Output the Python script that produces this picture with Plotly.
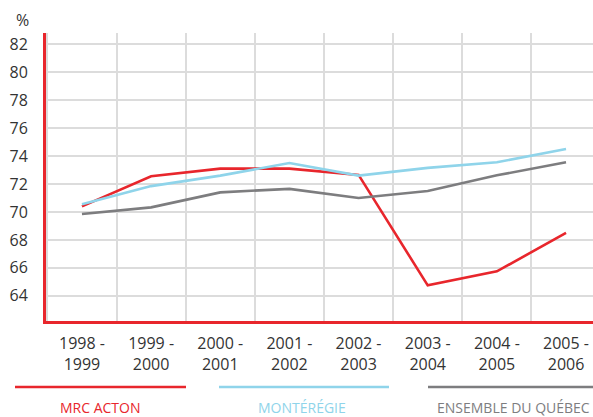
import plotly.graph_objects as go

categories = ["1998 -<br>1999", "1999 -<br>2000", "2000 -<br>2001", "2001 -<br>2002",
              "2002 -<br>2003", "2003 -<br>2004", "2004 -<br>2005", "2005 -<br>2006"]
mrc_acton = [70.4, 72.55, 73.1, 73.1, 72.65, 64.75, 65.75, 68.5]
monteregie = [70.55, 71.85, 72.6, 73.5, 72.6, 73.15, 73.55, 74.5]
quebec = [69.85, 70.33, 71.4, 71.65, 71.0, 71.5, 72.62, 73.55]
y_ticks = [64, 66, 68, 70, 72, 74, 76, 78, 80, 82]

RED = "#e8262c"
BLUE = "#8fd4ea"
GRAY = "#7d7d7f"

W, H = 593, 417
L, R, T, B = 46, 0, 33, 96
pw, ph = W - L - R, H - T - B

def px_x(p):
    return (p - L) / pw

def px_y(p):
    return (H - B - p) / ph

fig = go.Figure()
for name, vals, col in [("MRC ACTON", mrc_acton, RED),
                        ("MONTÉRÉGIE", monteregie, BLUE),
                        ("ENSEMBLE DU QUÉBEC", quebec, GRAY)]:
    fig.add_trace(go.Scatter(x=categories, y=vals, mode="lines", name=name,
                             line=dict(color=col, width=2.6), showlegend=False))

# legend drawn manually: line above, label below
legend_items = [("MRC ACTON", RED, 15, 186), ("MONTÉRÉGIE", BLUE, 219, 389),
                ("ENSEMBLE DU QUÉBEC", GRAY, 428, 593)]
shapes = []
annotations = []
for name, col, x0, x1 in legend_items:
    shapes.append(dict(type="line", xref="paper", yref="paper",
                       x0=px_x(x0), x1=px_x(x1), y0=px_y(387), y1=px_y(387),
                       line=dict(color=col, width=2.6)))
LEG_FONT = "Open Sans"
annotations.append(dict(text="MRC ACTON", xref="paper", yref="paper", x=px_x(100), y=px_y(407),
                        showarrow=False, xanchor="center", yanchor="middle",
                        font=dict(family=LEG_FONT, size=14, color=RED)))
annotations.append(dict(text="MONTÉRÉGIE", xref="paper", yref="paper", x=px_x(302), y=px_y(407),
                        showarrow=False, xanchor="center", yanchor="middle",
                        font=dict(family=LEG_FONT, size=14, color=BLUE)))
annotations.append(dict(text="ENSEMBLE DU QUÉBEC", xref="paper", yref="paper", x=px_x(592), y=px_y(407),
                        showarrow=False, xanchor="right", yanchor="middle",
                        font=dict(family=LEG_FONT, size=14, color=GRAY)))
annotations.append(dict(text="%", xref="paper", yref="paper", x=px_x(22), y=px_y(20),
                        showarrow=False, xanchor="center", yanchor="middle",
                        font=dict(family="Open Sans", size=16, color="#333")))

fig.update_layout(
    width=W, height=H,
    margin=dict(l=L, r=R, t=T, b=B, autoexpand=False),
    plot_bgcolor="white", paper_bgcolor="white",
    font=dict(family="Open Sans", size=16, color="#333"),
    xaxis=dict(type="category", range=[-0.52, 7.39], tickson="boundaries",
               showgrid=True, gridcolor="#dcdcdc", gridwidth=1.5,
               showline=True, linecolor=RED, linewidth=3, ticks="",
               ticklabelstandoff=6, zeroline=False, automargin=False),
    yaxis=dict(range=[62.2, 82.8], tickvals=y_ticks,
               showgrid=True, gridcolor="#dcdcdc", gridwidth=1.5,
               showline=True, linecolor=RED, linewidth=3, ticks="",
               ticklabelstandoff=12, zeroline=False, automargin=False),
    shapes=shapes, annotations=annotations,
)

fig.write_html("out.html", config={"displayModeBar": False},
               post_script="document.body.style.margin='0';document.body.style.overflow='hidden';")
